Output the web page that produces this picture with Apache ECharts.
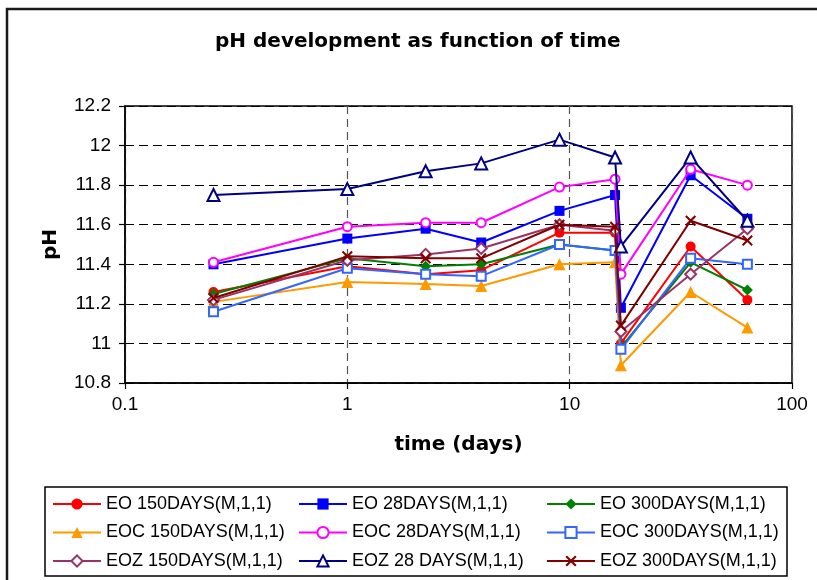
<!DOCTYPE html>
<html>
<head>
<meta charset="utf-8">
<script src="https://cdn.jsdelivr.net/npm/echarts@6/dist/echarts.min.js"></script>
<style>
html,body{margin:0;padding:0;background:#fff;}
#chart{width:817px;height:580px;}
</style>
</head>
<body>
<div id="chart"></div>
<script>
// ---- data ----
const times = [0.25, 1, 2.25, 4, 9, 16, 17, 35, 63];
const xTickLabels = ['0.1', '1', '10', '100'];
const yTickLabels = ['10.8', '11', '11.2', '11.4', '11.6', '11.8', '12', '12.2'];

const seriesNames = [
  'EO 150DAYS(M,1,1)', 'EO 28DAYS(M,1,1)', 'EO 300DAYS(M,1,1)',
  'EOC 150DAYS(M,1,1)', 'EOC 28DAYS(M,1,1)', 'EOC 300DAYS(M,1,1)',
  'EOZ 150DAYS(M,1,1)', 'EOZ 28 DAYS(M,1,1)', 'EOZ 300DAYS(M,1,1)'
];
const eo150  = [11.26, 11.39, 11.35, 11.37, 11.56, 11.56, 11.00, 11.49, 11.22];
const eo28   = [11.40, 11.53, 11.58, 11.51, 11.67, 11.75, 11.18, 11.85, 11.63];
const eo300  = [11.25, 11.43, 11.39, 11.40, 11.50, 11.47, 10.98, 11.41, 11.27];
const eoc150 = [11.21, 11.31, 11.30, 11.29, 11.40, 11.41, 10.89, 11.26, 11.08];
const eoc28  = [11.41, 11.59, 11.61, 11.61, 11.79, 11.83, 11.35, 11.88, 11.80];
const eoc300 = [11.16, 11.38, 11.35, 11.34, 11.50, 11.47, 10.97, 11.43, 11.40];
const eoz150 = [11.22, 11.42, 11.45, 11.48, 11.60, 11.57, 11.06, 11.35, 11.58];
const eoz28  = [11.75, 11.78, 11.87, 11.91, 12.03, 11.94, 11.49, 11.94, 11.62];
const eoz300 = [11.23, 11.44, 11.43, 11.43, 11.60, 11.59, 11.09, 11.62, 11.52];

const seriesValues = [eo150, eo28, eo300, eoc150, eoc28, eoc300, eoz150, eoz28, eoz300];

// ---- styles ----
const xShape = 'path://M0,1.6L1.6,0L6,4.4L10.4,0L12,1.6L7.6,6L12,10.4L10.4,12L6,7.6L1.6,12L0,10.4L4.4,6Z';
const styles = [
  {color: '#FF0000', symbol: 'circle', size: 10},
  {color: '#0000FF', symbol: 'rect', size: 10},
  {color: '#008000', symbol: 'diamond', size: 11},
  {color: '#FF9900', symbol: 'triangle', size: 12},
  {color: '#FF00FF', symbol: 'emptyCircle', size: 9},
  {color: '#3366FF', symbol: 'emptyRect', size: 9},
  {color: '#993366', symbol: 'emptyDiamond', size: 11},
  {color: '#000080', symbol: 'emptyTriangle', size: 12},
  {color: '#800000', symbol: xShape, size: 11}
];

const series = seriesNames.map((name, i) => ({
  name: name,
  type: 'line',
  data: times.map((t, j) => [t, seriesValues[i][j]]),
  symbol: styles[i].symbol,
  symbolSize: styles[i].size,
  showAllSymbol: true,
  lineStyle: {color: styles[i].color, width: 2},
  itemStyle: {color: styles[i].color, borderColor: styles[i].color, borderWidth: styles[i].symbol.startsWith('empty') ? 1.8 : 0},
  z: 2 + i
}));

const legendCols = [0, 1, 2].map(c => ({
  orient: 'vertical',
  left: [52, 298, 546][c],
  top: 494,
  padding: 0,
  itemWidth: 48,
  itemHeight: 14,
  itemGap: 8.5,
  data: [seriesNames[c], seriesNames[c + 3], seriesNames[c + 6]],
  textStyle: {fontFamily: 'Liberation Sans', fontSize: 18, color: '#000', lineHeight: 20},
  selectedMode: false
}));

const chart = echarts.init(document.getElementById('chart'), null, {renderer: 'canvas'});
chart.setOption({
  animation: false,
  backgroundColor: '#fff',
  title: {
    text: 'pH development as function of time',
    left: 215,
    top: 32,
    padding: 0,
    textStyle: {fontFamily: 'DejaVu Sans', fontWeight: 'bold', fontSize: 20, color: '#000'}
  },
  graphic: [
    {type: 'rect', shape: {x: 7, y: 9, width: 830, height: 600}, style: {fill: 'none', stroke: '#1a1a1a', lineWidth: 2.5}, z: 100, silent: true},
    {type: 'rect', shape: {x: 45, y: 487, width: 742, height: 89}, style: {fill: 'none', stroke: '#000', lineWidth: 1.5}, z: 100, silent: true}
  ],
  legend: legendCols,
  grid: {left: 125, right: 25, top: 106, bottom: 197, show: true, borderColor: '#000', borderWidth: 1.5, backgroundColor: 'transparent'},
  xAxis: {
    type: 'log',
    logBase: 10,
    min: 0.1,
    max: 100,
    name: 'time (days)',
    nameLocation: 'middle',
    nameGap: 52,
    nameTextStyle: {fontFamily: 'DejaVu Sans', fontWeight: 'bold', fontSize: 20, color: '#000'},
    axisLine: {show: true, lineStyle: {color: '#000', width: 1.5}},
    axisTick: {show: true, length: 6, lineStyle: {color: '#000', width: 1.2}},
    axisLabel: {
      margin: 12,
      fontFamily: 'Liberation Sans', fontSize: 19, color: '#000',
      formatter: v => {
        const idx = Math.round(Math.log10(v)) + 1;
        return xTickLabels[idx] !== undefined ? xTickLabels[idx] : '';
      }
    },
    minorTick: {show: false},
    splitLine: {show: true, lineStyle: {color: '#555', type: [8, 5], width: 1.2}}
  },
  yAxis: {
    type: 'value',
    min: 10.8,
    max: 12.2,
    interval: 0.2,
    name: 'pH',
    nameLocation: 'middle',
    nameGap: 64,
    nameRotate: 90,
    nameTextStyle: {fontFamily: 'DejaVu Sans', fontWeight: 'bold', fontSize: 20, color: '#000'},
    axisLine: {show: true, lineStyle: {color: '#000', width: 1.5}},
    axisTick: {show: true, length: 6, lineStyle: {color: '#000', width: 1.2}},
    axisLabel: {
      margin: 14,
      fontFamily: 'Liberation Sans', fontSize: 19, color: '#000',
      formatter: v => {
        const idx = Math.round((v - 10.8) / 0.2);
        return yTickLabels[idx] !== undefined ? yTickLabels[idx] : '';
      }
    },
    splitLine: {show: true, lineStyle: {color: '#000', type: [9, 5], width: 1}}
  },
  series: series
});
</script>
</body>
</html>
